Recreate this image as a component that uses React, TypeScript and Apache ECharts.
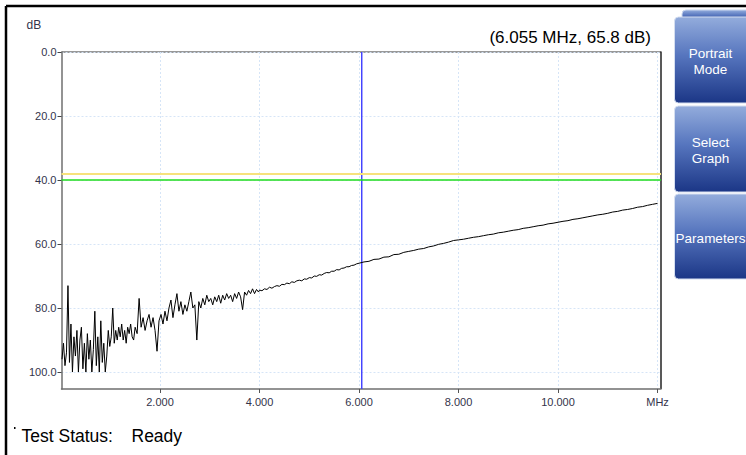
import React, { useEffect, useRef } from 'react';
import * as echarts from 'echarts';

const traceLow: [number, number][] = [
  [0.03, 96], [0.06, 91], [0.09, 98], [0.12, 94], [0.15, 73], [0.18, 97], [0.21, 85], [0.24, 100],
  [0.27, 89], [0.30, 95], [0.33, 87], [0.36, 100], [0.39, 90], [0.42, 86], [0.45, 99], [0.48, 91],
  [0.51, 100], [0.54, 88], [0.57, 96], [0.60, 90], [0.63, 100], [0.66, 93], [0.69, 81], [0.72, 98],
  [0.75, 89], [0.78, 100], [0.81, 84], [0.84, 97], [0.87, 91], [0.90, 100], [0.93, 95], [0.96, 87],
  [0.99, 92], [1.02, 89], [1.05, 80], [1.08, 91], [1.11, 87], [1.14, 90], [1.17, 86], [1.20, 89],
  [1.23, 85], [1.26, 90], [1.29, 87], [1.32, 91], [1.35, 86], [1.38, 88], [1.41, 85], [1.44, 89],
  [1.47, 90], [1.50, 86],
];
const traceMid: [number, number][] = [
  [1.54, 88], [1.58, 77], [1.62, 86], [1.66, 83], [1.70, 87], [1.74, 84], [1.78, 82], [1.82, 86],
  [1.86, 83], [1.90, 87], [1.94, 93.5], [1.98, 84], [2.02, 82], [2.06, 85], [2.10, 81], [2.14, 84],
  [2.18, 80], [2.22, 77.5], [2.26, 83], [2.30, 79], [2.34, 75.5], [2.38, 81], [2.42, 78], [2.46, 82],
  [2.50, 79], [2.54, 81], [2.58, 78], [2.62, 75], [2.66, 80], [2.70, 79], [2.74, 90], [2.78, 78],
  [2.82, 80], [2.86, 77], [2.90, 79], [2.94, 76], [2.98, 78], [3.02, 77], [3.06, 79], [3.10, 76.5],
  [3.14, 78], [3.18, 76], [3.22, 78.5], [3.26, 76], [3.30, 77.5], [3.34, 75.5], [3.38, 77], [3.42, 76],
  [3.46, 78], [3.50, 75.5], [3.54, 77], [3.58, 75], [3.62, 76.5], [3.66, 80.5], [3.70, 75], [3.74, 76],
  [3.78, 74.5], [3.82, 75.5], [3.86, 74], [3.90, 75.5], [3.94, 74.2], [3.98, 75],
];
const traceHigh: [number, number][] = [
  [4.00, 74.4], [4.05, 74.6], [4.10, 74.0], [4.15, 74.2], [4.20, 73.5], [4.25, 73.8], [4.30, 73.3],
  [4.35, 73.0], [4.40, 73.2], [4.45, 72.6], [4.50, 72.7], [4.55, 72.2], [4.60, 72.4], [4.65, 71.8],
  [4.70, 72.0], [4.75, 71.5], [4.80, 71.3], [4.85, 71.5], [4.90, 70.9], [4.95, 71.0], [5.00, 70.5],
  [5.05, 70.6], [5.10, 70.0], [5.15, 70.1], [5.20, 69.6], [5.25, 69.7], [5.30, 69.2], [5.35, 68.9],
  [5.40, 69.0], [5.45, 68.5], [5.50, 68.5], [5.55, 68.0], [5.60, 68.1], [5.65, 67.6], [5.70, 67.5],
  [5.75, 67.1], [5.80, 67.1], [5.85, 66.7], [5.90, 66.6], [5.95, 66.2], [6.00, 66.0],
  [6.1, 65.6], [6.2, 65.4], [6.3, 64.8], [6.4, 64.7], [6.5, 64.1], [6.6, 64.0], [6.7, 63.3],
  [6.8, 63.2], [6.9, 62.6], [7.0, 62.3], [7.1, 62.0], [7.2, 61.6], [7.3, 61.4], [7.4, 60.9],
  [7.5, 60.6], [7.6, 60.1], [7.7, 59.8], [7.8, 59.4], [7.9, 58.9], [8.0, 58.7], [8.1, 58.5],
  [8.2, 58.2], [8.3, 57.9], [8.4, 57.7], [8.5, 57.4], [8.6, 57.1], [8.7, 56.9], [8.8, 56.5],
  [8.9, 56.3], [9.0, 56.0], [9.1, 55.7], [9.2, 55.5], [9.3, 55.1], [9.4, 54.9], [9.5, 54.6],
  [9.6, 54.3], [9.7, 54.1], [9.8, 53.7], [9.9, 53.5], [10.0, 53.2], [10.1, 52.9], [10.2, 52.7],
  [10.3, 52.3], [10.4, 52.1], [10.5, 51.8], [10.6, 51.5], [10.7, 51.2], [10.8, 50.9], [10.9, 50.7],
  [11.0, 50.4], [11.1, 50.0], [11.2, 49.8], [11.3, 49.4], [11.4, 49.2], [11.5, 48.9], [11.6, 48.5],
  [11.7, 48.3], [11.8, 47.9], [11.9, 47.6], [12.0, 47.3],
];

const xTicks = [2, 4, 6, 8, 10, 12];
const yTicks = [0, 20, 40, 60, 80, 100];
const xUnitLabel = 'MHz';
const yUnitLabel = 'dB';
const yMin = 0;
const yMax = 105.3;
const limitYellow = 38;
const limitGreen = 40;
const cursorFreq = 6.055;
const cursorDb = 65.8;
const buttonLabels: string[][] = [['Portrait', 'Mode'], ['Select', 'Graph'], ['Parameters']];
const statusLabel = 'Test Status:';
const statusValue = 'Ready';

const FONT = '"Liberation Sans", Arial, sans-serif';

function refLine(item: any, color: string, width: number) {
  return {
    type: 'line',
    data: [],
    silent: true,
    markLine: {
      silent: true,
      symbol: ['none', 'none'],
      label: { show: false },
      emphasis: { disabled: true },
      lineStyle: { color, width, type: 'solid', opacity: 1 },
      data: [item],
    },
  };
}

export default function App() {
  const ref = useRef<HTMLDivElement>(null);

  useEffect(() => {
    if (!ref.current) return;
    const chart = echarts.init(ref.current, null, { renderer: 'svg' });
    const data = [...traceLow, ...traceMid, ...traceHigh];

    const btnGradient = {
      type: 'linear', x: 0, y: 0, x2: 0, y2: 1,
      colorStops: [
        { offset: 0, color: '#93acdc' },
        { offset: 0.45, color: '#5675be' },
        { offset: 1, color: '#1b3686' },
      ],
    };
    const buttonBoxes = [
      { top: 17, bottom: 103 },
      { top: 106, bottom: 192 },
      { top: 194, bottom: 279 },
    ];
    const buttonGraphics: any[] = [
      {
        type: 'rect', shape: { x: 682, y: 10, width: 70, height: 12, r: 4 },
        style: { fill: btnGradient as any, stroke: '#c9d6ee', lineWidth: 1 },
      },
    ];
    buttonBoxes.forEach((b, i) => {
      buttonGraphics.push({
        type: 'rect',
        shape: { x: 674.5, y: b.top, width: 80, height: b.bottom - b.top, r: 4 },
        style: { fill: btnGradient as any, stroke: '#d4def0', lineWidth: 1 },
      });
      const lines = buttonLabels[i];
      const mid = (b.top + b.bottom) / 2;
      lines.forEach((t, j) => {
        const y = lines.length === 1 ? mid + 1.5 : mid - 7 + j * 16.5;
        buttonGraphics.push({
          type: 'text', x: 710.5, y,
          style: {
            text: t, fill: '#ffffff', fontSize: 13.5, fontFamily: FONT,
            align: 'center', verticalAlign: 'middle', textAlign: 'center', textVerticalAlign: 'middle',
          },
        });
      });
    });

    const option: any = {
      animation: false,
      backgroundColor: '#ffffff',
      grid: { left: 61.5, top: 52, right: 85, bottom: 66, show: false },
      xAxis: {
        type: 'value', min: 0.02, max: 12.07,
        axisLine: { show: true, onZero: false, lineStyle: { color: '#6f6f6f', width: 1.5 } },
        axisTick: { show: true, length: 4, customValues: xTicks, lineStyle: { color: '#555555' } },
        axisLabel: {
          customValues: xTicks, color: '#33334a', fontSize: 11, fontFamily: FONT, margin: 7,
          formatter: (v: number) => (Math.abs(v - 12) < 1e-6 ? xUnitLabel : v.toFixed(3)),
        },
        splitLine: { show: true, lineStyle: { color: '#d6e5f7', type: [2, 2], width: 1 } },
      },
      yAxis: {
        type: 'value', inverse: true, min: yMin, max: yMax,
        axisLine: { show: true, onZero: false, lineStyle: { color: '#6f6f6f', width: 1.5 } },
        axisTick: { show: true, length: 4, customValues: yTicks, lineStyle: { color: '#444444' } },
        axisLabel: {
          customValues: yTicks, color: '#33334a', fontSize: 11, fontFamily: FONT, margin: 5,
          formatter: (v: number) => v.toFixed(1),
        },
        splitLine: { show: true, lineStyle: { color: '#d6e5f7', type: [2, 2], width: 1 } },
      },
      series: [
        refLine({ yAxis: limitYellow }, '#f6e27c', 2),
        refLine({ yAxis: limitGreen }, '#1fdc1f', 1.5),
        {
          type: 'line', silent: true, symbol: 'none', showSymbol: false, z: 2,
          data: [[cursorFreq, yMin], [cursorFreq, yMax]],
          lineStyle: { color: '#3b3bff', width: 1.4, type: 'solid' },
          itemStyle: { color: '#3b3bff' },
        },
        {
          type: 'line', data, symbol: 'none', showSymbol: false, z: 3,
          lineStyle: { color: '#000000', width: 1 },
        },
      ],
      graphic: [
        // outer frame
        { type: 'line', shape: { x1: 6, y1: 6, x2: 746, y2: 6 }, style: { stroke: '#000', lineWidth: 2.5 } },
        { type: 'line', shape: { x1: 6, y1: 6, x2: 6, y2: 455 }, style: { stroke: '#000', lineWidth: 2.5 } },
        // plot frame top and right
        { type: 'line', shape: { x1: 61.5, y1: 52, x2: 661, y2: 52 }, style: { stroke: '#777777', lineWidth: 1.5 } },
        { type: 'line', shape: { x1: 661, y1: 51.5, x2: 661, y2: 389 }, style: { stroke: '#222222', lineWidth: 1.5 } },
        // unit label
        {
          type: 'text', x: 26.5, y: 25,
          style: { text: yUnitLabel, fill: '#33334a', fontSize: 12, fontFamily: FONT, verticalAlign: 'middle', textVerticalAlign: 'middle' },
        },
        // cursor readout
        {
          type: 'text', x: 651, y: 37,
          style: {
            text: `(${cursorFreq.toFixed(3)} MHz, ${cursorDb.toFixed(1)} dB)`, fill: '#000',
            fontSize: 17, fontFamily: FONT,
            align: 'right', verticalAlign: 'middle', textAlign: 'right', textVerticalAlign: 'middle',
          },
        },
        // status
        { type: 'rect', shape: { x: 14, y: 427, width: 1.5, height: 2 }, style: { fill: '#000' } },
        {
          type: 'text', x: 21.5, y: 436,
          style: { text: statusLabel, fill: '#000', fontSize: 17.5, fontFamily: FONT, verticalAlign: 'middle', textVerticalAlign: 'middle' },
        },
        {
          type: 'text', x: 131.5, y: 436,
          style: { text: statusValue, fill: '#000', fontSize: 17.5, fontFamily: FONT, verticalAlign: 'middle', textVerticalAlign: 'middle' },
        },
        ...buttonGraphics,
      ],
    };
    chart.setOption(option);
    return () => chart.dispose();
  }, []);

  return (
    <div
      ref={ref}
      style={{ position: 'absolute', left: 0, top: 0, width: 746, height: 455, background: '#fff' }}
    />
  );
}
